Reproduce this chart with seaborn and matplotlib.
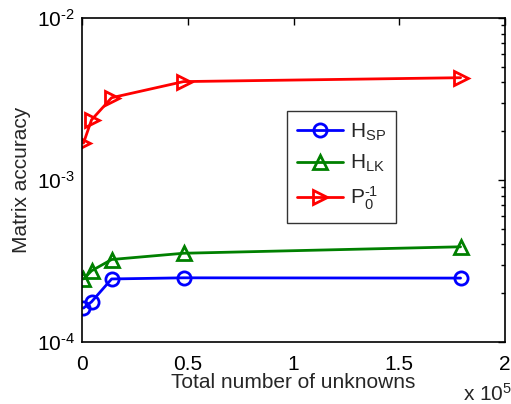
import numpy as np
import pandas as pd
import matplotlib
matplotlib.use("Agg")
import matplotlib.pyplot as plt
import seaborn as sns
from matplotlib.ticker import FixedLocator, LogLocator, NullFormatter, FuncFormatter

unknowns = [700, 4500, 14000, 48000, 179000]
h_sp = [1.62e-4, 1.77e-4, 2.45e-4, 2.49e-4, 2.48e-4]
h_lk = [2.45e-4, 2.75e-4, 3.23e-4, 3.53e-4, 3.87e-4]
p0_inv = [1.69e-3, 2.35e-3, 3.22e-3, 4.05e-3, 4.28e-3]
labels = ['H$_{\\mathregular{SP}}$', 'H$_{\\mathregular{LK}}$', 'P$_{\\mathregular{0}}^{\\mathregular{\u20101}}$']
colors = ['#0000ff', '#008000', '#ff0000']
markers = ['o', '^', '>']
xticks = [0, 0.5e5, 1e5, 1.5e5, 2e5]
xticklabels = ['0', '0.5', '1', '1.5', '2']

sns.set_style("white")
plt.rcParams['font.family'] = ['Liberation Sans', 'DejaVu Sans']
plt.rcParams['mathtext.fontset'] = 'custom'
plt.rcParams['mathtext.rm'] = 'Liberation Sans'
plt.rcParams['mathtext.it'] = 'Liberation Sans'
plt.rcParams['axes.unicode_minus'] = False

fig = plt.figure(figsize=(5.11, 4.04), dpi=100)
ax = fig.add_axes([82/511, 1-342/404, 423/511, 324/404])

for ys, lab, c, m in zip([h_sp, h_lk, p0_inv], labels, colors, markers):
    df = pd.DataFrame({'x': unknowns, 'y': ys})
    sns.lineplot(data=df, x='x', y='y', ax=ax, color=c, marker=m, label=lab,
                 linewidth=2, markersize=9.5, markerfacecolor='none',
                 markeredgecolor=c, markeredgewidth=2)

ax.set_yscale('log')
ax.set_xlim(0, 2e5)
ax.set_ylim(1e-4, 1e-2)
ax.xaxis.set_major_locator(FixedLocator(xticks))
ax.set_xticklabels(xticklabels)
ax.yaxis.set_major_locator(LogLocator(base=10, numticks=10))
ax.yaxis.set_minor_locator(LogLocator(base=10, subs=np.arange(2, 10), numticks=20))
ax.yaxis.set_minor_formatter(NullFormatter())
ax.yaxis.set_major_formatter(FuncFormatter(
    lambda v, p: '10$^{\\mathregular{\u2010%d}}$' % abs(int(round(np.log10(v))))))

ax.tick_params(which='both', direction='in', top=True, right=True, labelsize=15, colors='black')
ax.tick_params(which='major', length=5, width=1)
ax.tick_params(which='minor', length=3, width=1)
ax.tick_params(axis='x', pad=9)
ax.tick_params(axis='y', pad=5)
for s in ax.spines.values():
    s.set_visible(True)
    s.set_color('black')
    s.set_linewidth(1.2)

ax.set_xlabel('Total number of unknowns', fontsize=15, labelpad=0)
ax.set_ylabel('Matrix accuracy', fontsize=15, labelpad=4)
fig.text(463/511, 1-394/404, r'x 10$^{\mathregular{5}}$', fontsize=15, va='center', ha='left')

leg = ax.legend(loc='upper left', bbox_to_anchor=((287-82)/423, (342-111)/324),
                fontsize=15, frameon=True, fancybox=False, edgecolor='black',
                handlelength=2.2, handletextpad=0.3, borderpad=0.5, labelspacing=0.5,
                borderaxespad=0)
leg.get_frame().set_linewidth(1)

fig.savefig('out.png', dpi=100)
